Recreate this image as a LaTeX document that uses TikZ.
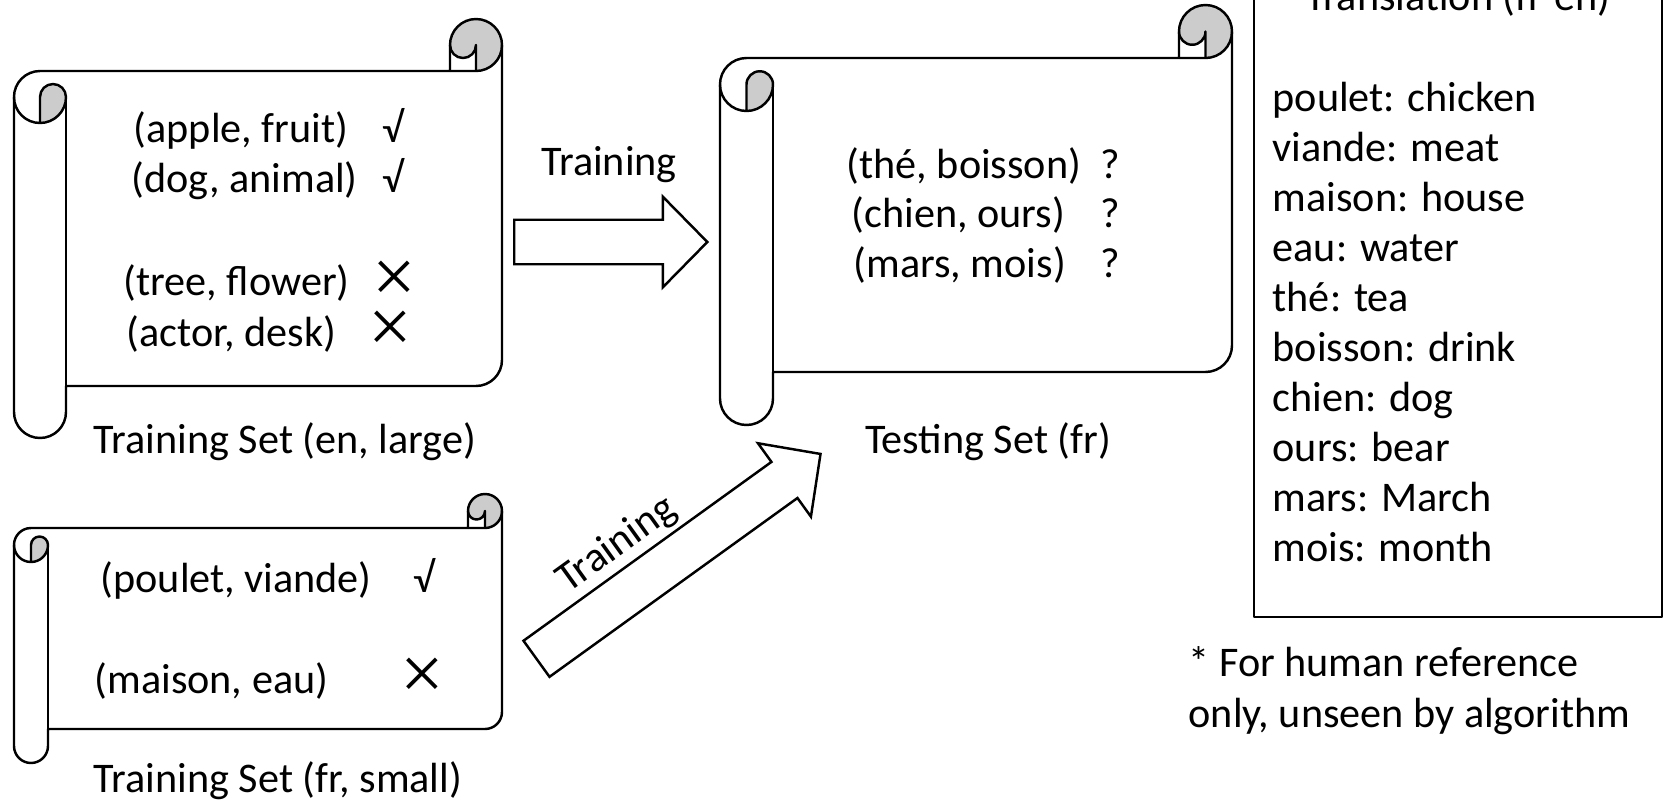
\documentclass[tikz,border=0pt]{standalone}
\usepackage{fontspec}
\setmainfont{Carlito}
\newfontfamily\crossfont{Liberation Serif}
\usetikzlibrary{shapes.arrows}

\definecolor{rollgray}{gray}{0.8}

\tikzset{
  scrolline/.style={line width=0.7pt, line join=round},
  txt/.style={inner sep=0pt, anchor=base west, font=\fontsize{12}{14.5}\selectfont},
  captxt/.style={inner sep=0pt, anchor=base, font=\fontsize{12}{14.5}\selectfont},
  yesmark/.style={inner sep=0pt, anchor=base, font=\fontsize{12}{14.5}\selectfont},
  nomark/.style={inner sep=0pt, anchor=center, font=\crossfont\fontsize{22}{22}\selectfont},
  blockarrow/.style={single arrow, draw, line width=0.7pt, anchor=tail,
    inner xsep=0pt, inner ysep=0.21cm, text height=0pt, text depth=0pt,
    minimum width=1pt, single arrow head extend=0.23cm, single arrow tip angle=91}
}

% scroll: left, top, right, bottom, curl size (pixels, y down)
\newcommand{\scrollshape}[5]{%
  \pgfmathsetmacro\scL{#1}\pgfmathsetmacro\scT{#2}%
  \pgfmathsetmacro\scR{#3}\pgfmathsetmacro\scB{#4}%
  \pgfmathsetmacro\scC{#5}\pgfmathsetmacro\scH{#5/2}\pgfmathsetmacro\scQ{#5/4}%
  % gray curls
  \fill[rollgray] (\scL+\scH,\scT+2*\scC) arc[start angle=90, end angle=0, radius=\scH]
    arc[start angle=0, end angle=-180, radius=\scQ] -- cycle;
  \fill[rollgray] (\scR-\scH,\scT+\scC) arc[start angle=90, end angle=-180, radius=\scH]
    arc[start angle=180, end angle=0, radius=\scQ] -- cycle;
  % sheet
  \draw[scrolline] (\scL,\scT+\scC+\scH)
    arc[start angle=180, end angle=270, radius=\scH] -- (\scR-\scC,\scT+\scC)
    -- (\scR-\scC,\scT+\scH) arc[start angle=180, end angle=360, radius=\scH]
    -- (\scR,\scB-\scC-\scH) arc[start angle=0, end angle=90, radius=\scH]
    -- (\scL+\scC,\scB-\scC) -- (\scL+\scC,\scB-\scH)
    arc[start angle=0, end angle=180, radius=\scH] -- cycle;
  % roll lines
  \draw[scrolline] (\scR-\scC,\scT+\scC) -- (\scR-\scH,\scT+\scC)
    arc[start angle=90, end angle=0, radius=\scH];
  \draw[scrolline] (\scR-\scH,\scT+\scC) -- (\scR-\scH,\scT+\scH)
    arc[start angle=0, end angle=180, radius=\scQ];
  \draw[scrolline] (\scL+\scH,\scT+2*\scC) -- (\scL+\scH,\scT+\scC+\scH)
    arc[start angle=180, end angle=360, radius=\scQ]
    arc[start angle=0, end angle=180, radius=\scH];
  \draw[scrolline] (\scL+\scC,\scT+\scC+\scH) -- (\scL+\scC,\scB-\scC);
}

\begin{document}
\begin{tikzpicture}[x=0.01cm, y=-0.01cm]
  \useasboundingbox (0,0) rectangle (1668,802);

  % training set en
  \scrollshape{14}{19}{502}{438}{52}
  \node[txt] (apple) at (133,142) {(apple, fruit)};
  \node[txt] (dog) at (131,192) {(dog, animal)};
  \node[txt] (tree) at (123,295) {(tree, flower)};
  \node[txt] (actor) at (126,346) {(actor, desk)};
  \node[yesmark] (yes1) at (393,142) {√};
  \node[yesmark] (yes2) at (393,192) {√};
  \node[nomark] (no1) at (394,282) {×};
  \node[nomark] (no2) at (390,332) {×};
  \node[captxt] (setEn) at (285,453) {Training Set (en, large)};

  % testing set fr
  \scrollshape{720}{5}{1232}{425}{53}
  \node[txt] (the) at (846,178) {(thé, boisson)};
  \node[txt] (chien) at (851,227) {(chien, ours)};
  \node[txt] (mars) at (853,277) {(mars, mois)};
  \node[yesmark] (q1) at (1110,178) {?};
  \node[yesmark] (q2) at (1110,227) {?};
  \node[yesmark] (q3) at (1110,277) {?};
  \node[captxt] (setTest) at (988,453) {Testing Set (fr)};

  % training set fr
  \scrollshape{14}{494}{502}{763}{34}
  \node[txt] (poulet) at (100,592) {(poulet, viande)};
  \node[txt] (maison) at (94,693) {(maison, eau)};
  \node[yesmark] (yes3) at (424,592) {√};
  \node[nomark] (no3) at (422,679) {×};
  \node[captxt] (setFr) at (278,792) {Training Set (fr, small)};

  % arrows
  \node[blockarrow, minimum height=1.93cm] (arrTop) at (513,242) {};
  \node[captxt] (trainTop) at (609,175) {Training};
  \node[blockarrow, minimum height=3.5cm, rotate=35.8] (arrDiag) at (535.5,659.5) {};
  \node[captxt, anchor=center, rotate=35.8] (trainDiag) at (617,545) {Training};

  % translation
  \draw[scrolline] (1254,-40) rectangle (1662,617);
  \node[captxt] (trTitle) at (1458,10) {Translation (fr-en)};
  \foreach \w [count=\i from 0] in {poulet: chicken, viande: meat, maison: house,
      eau: water, thé: tea, boisson: drink, chien: dog, ours: bear, mars: March, mois: month}
    \node[txt] (tr\i) at (1272,111+50*\i) {\w};
  \node[txt] (note1) at (1188,676) {* For human reference};
  \node[txt] (note2) at (1188,727) {only, unseen by algorithm};
\end{tikzpicture}
\end{document}
